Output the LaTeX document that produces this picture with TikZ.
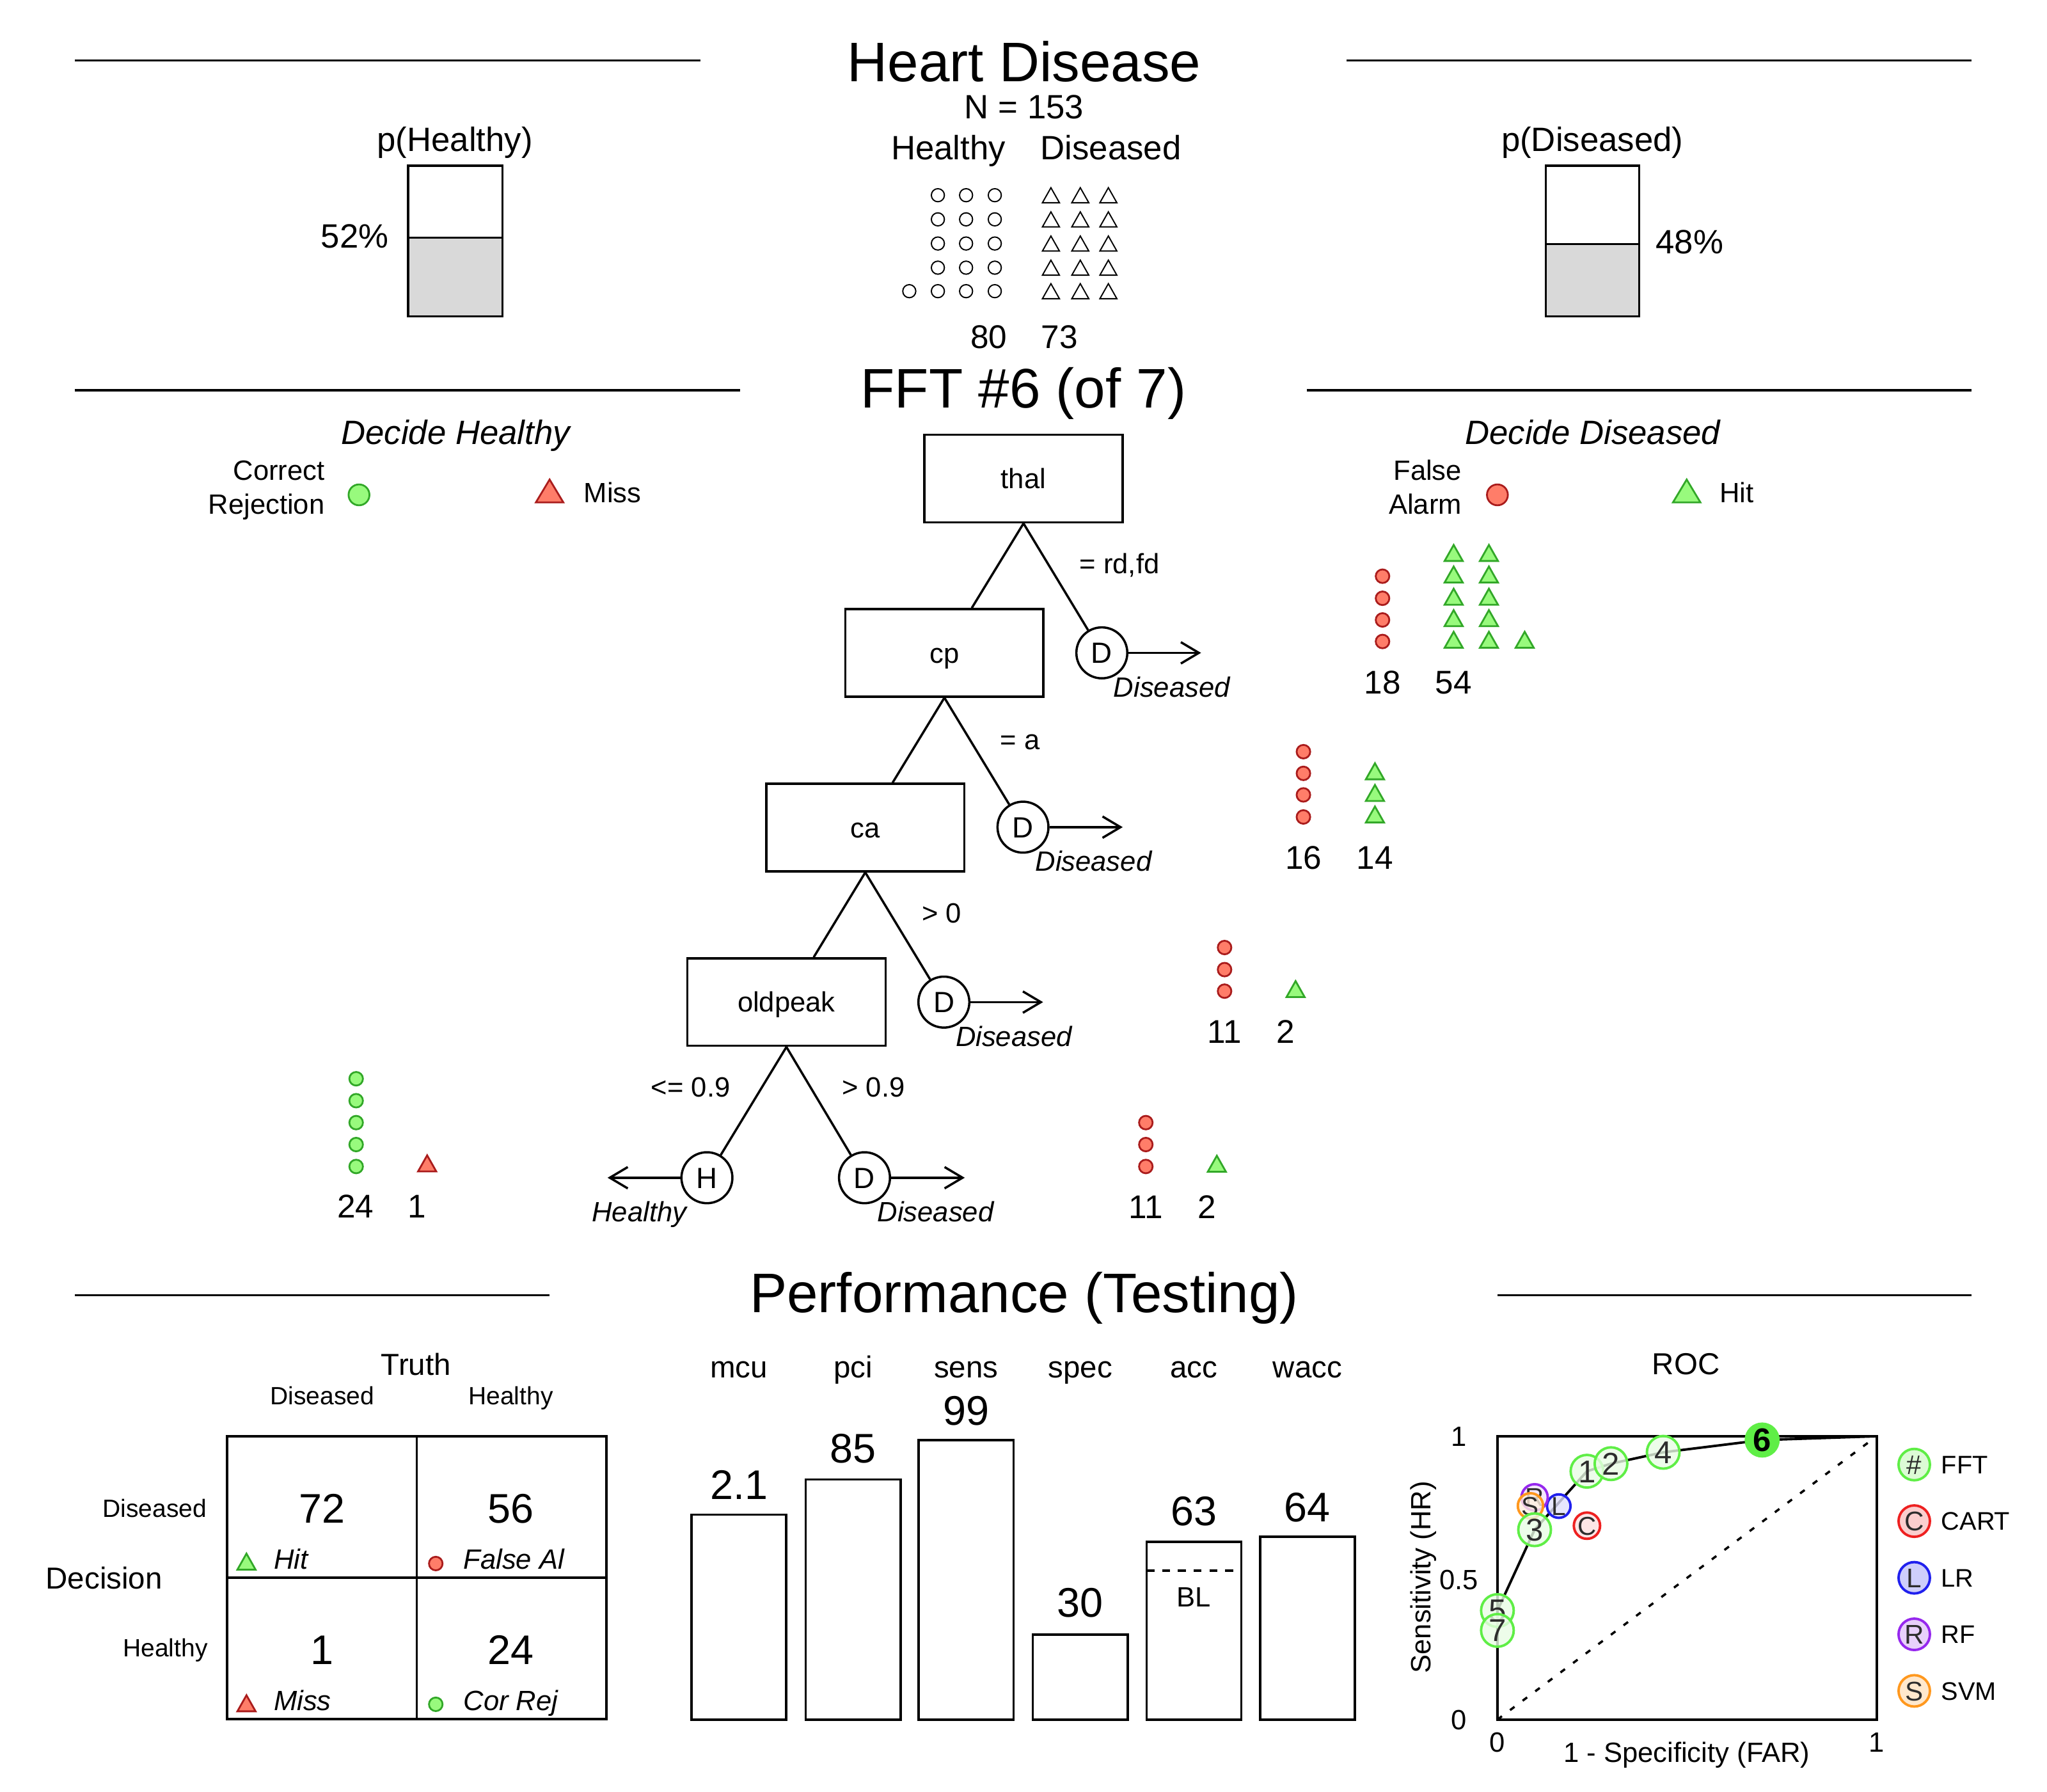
\documentclass[tikz,border=0pt]{standalone}
\usepackage{fontspec}
\setmainfont{Liberation Sans}
\usetikzlibrary{arrows.meta}
\newcommand{\myfs}[1]{\fontsize{#1pt}{#1pt}\selectfont}
\definecolor{gF}{RGB}{152,250,125}
\definecolor{gE}{RGB}{50,168,40}
\definecolor{rF}{RGB}{255,125,105}
\definecolor{rE}{RGB}{170,28,28}
\definecolor{rocG}{RGB}{95,238,70}
\definecolor{rocR}{RGB}{238,32,32}
\definecolor{rocB}{RGB}{32,32,238}
\definecolor{rocP}{RGB}{150,40,238}
\definecolor{rocO}{RGB}{255,152,30}
\definecolor{barGray}{RGB}{217,217,217}
\definecolor{numGray}{RGB}{45,45,45}
\tikzset{
  tx/.style={inner sep=0pt, text depth=0pt},
  tBig/.style={tx, font=\myfs{24.8}, text height=17.76pt},
  tMed/.style={tx, font=\myfs{15}, text height=10.74pt},
  tMedI/.style={tx, font=\myfs{15}\itshape, text height=10.74pt},
  tCnt/.style={tx, font=\myfs{14.6}, text height=10.45pt},
  tPerf/.style={tx, font=\myfs{13.5}, text height=9.67pt},
  tSm/.style={tx, font=\myfs{12.4}, text height=8.88pt},
  tSmI/.style={tx, font=\myfs{12.4}\itshape, text height=8.88pt},
  tCell/.style={tx, font=\myfs{11.1}, text height=7.95pt},
  tVal/.style={tx, font=\myfs{18.4}, text height=13.17pt},
  tLeg/.style={tx, font=\myfs{11.3}, text height=8.09pt},
  rule/.style={line width=1pt},
  fftbox/.style={draw, line width=1pt, minimum width=3.096cm, minimum height=1.367cm, inner sep=0pt, font=\myfs{12.4}, text height=8.88pt, text depth=0pt},
  leaf/.style={draw, circle, line width=1pt, minimum size=0.796cm, inner sep=0pt, font=\myfs{13}, text height=9.31pt, text depth=0pt, fill=white},
  edge/.style={line width=1pt},
  arr/.style={line width=1pt, -{Straight Barb[length=8pt,width=9.5pt,line width=1pt]}},
  gIc/.style={draw=gE, fill=gF, line width=0.8pt},
  rIc/.style={draw=rE, fill=rF, line width=0.8pt},
  oIc/.style={draw=black, line width=0.55pt},
  rocpt/.style={draw=#1, fill=#1!14, fill opacity=0.8, text opacity=1, circle, line width=1.1pt, inner sep=0pt, minimum size=0.367cm, font=\myfs{11.5}, text=numGray, text height=8.2pt, text depth=0pt},
  fftpt/.style={rocpt=rocG, minimum size=0.51cm, font=\myfs{14}, text height=10pt},
  legpt/.style={draw=#1, fill=#1!22, circle, line width=1.1pt, inner sep=0pt, minimum size=0.49cm, font=\myfs{12}, text=numGray, text height=8.6pt, text depth=0pt},
}
\newcommand{\icirc}[4]{\draw[#1] (#2,#3) circle[radius=#4];}
\newcommand{\itri}[5]{\draw[#1] ({#2-#4/2},{#3+#5/2}) -- ({#2+#4/2},{#3+#5/2}) -- (#2,{#3-#5/2}) -- cycle;}
\begin{document}
\begin{tikzpicture}[x=0.0204082cm,y=-0.0204082cm]
\useasboundingbox (0,0) rectangle (1568,1372);
\fill[white] (0,0) rectangle (1568,1372);

% ---------------- header ----------------
\draw[rule] (57.5,46.3) -- (536.5,46.3);
\draw[rule] (1031.5,46.3) -- (1510,46.3);
\node[tBig] (title) at (784.5,47) {Heart Disease};
\node[tMed] (nlab) at (784.5,81.6) {N = 153};
\node[tMed] (hhead) at (726.5,113) {Healthy};
\node[tMed] (dhead) at (851,113) {Diseased};
\node[tMed] (phl) at (348.5,106.5) {p(Healthy)};
\node[tMed] (pdl) at (1219.7,106.5) {p(Diseased)};
% p bars
\fill[barGray] (312.5,182) rectangle (385,242.3);
\draw[line width=1pt] (312.5,127) rectangle (385,242.3);
\draw[line width=1pt] (312.5,182) -- (385,182);
\node[tMed, anchor=east] (php) at (298,180.5) {52\%};
\fill[barGray] (1184,187) rectangle (1255.5,242.3);
\draw[line width=1pt] (1184,127) rectangle (1255.5,242.3);
\draw[line width=1pt] (1184,187) -- (1255.5,187);
\node[tMed, anchor=west] (pdp) at (1268,185) {48\%};
% header icon arrays
\foreach \yy in {149.5,168,186.5,205,223}{
  \foreach \xx in {718.4,740,762}{ \icirc{oIc}{\xx}{\yy}{5} }
  \foreach \xx in {805,827.5,849}{ \itri{oIc}{\xx}{\yy}{13}{11.5} }
}
\icirc{oIc}{696.5}{223}{5}
\node[tCnt] (c80) at (757.5,258) {80};
\node[tCnt] (c73) at (811.5,258) {73};

% ---------------- FFT ----------------
\draw[rule] (57.5,299) -- (567,299);
\draw[rule] (1001,299) -- (1510,299);
\node[tBig] (ffttitle) at (784,297) {FFT \#6 (of 7)};
\node[tMedI] (dech) at (349,331) {Decide Healthy};
\node[tMedI] (decd) at (1220,331) {Decide Diseased};
\node[tSm, anchor=east] (crl1) at (249,360) {Correct};
\node[tSm, anchor=east] (crl2) at (249,386) {Rejection};
\icirc{gIc}{275}{379}{8}
\itri{rIc}{421}{376}{21}{17.5}
\node[tSm, anchor=west] (missl) at (447,377) {Miss};
\node[tSm, anchor=east] (fal1) at (1120,360) {False};
\node[tSm, anchor=east] (fal2) at (1120,386) {Alarm};
\icirc{rIc}{1147}{379}{8}
\itri{gIc}{1292}{376}{21}{17.5}
\node[tSm, anchor=west] (hitl) at (1317,377) {Hit};

% tree
\node[fftbox] (thal) at (784,366.5) {thal};
\node[fftbox] (cp) at (723.4,500) {cp};
\node[fftbox] (ca) at (662.8,633.8) {ca};
\node[fftbox] (oldpeak) at (602.4,767.5) {oldpeak};
\node[leaf] (d1) at (844,500) {D};
\node[leaf] (d2) at (783.6,633.5) {D};
\node[leaf] (d3) at (723,767.5) {D};
\node[leaf] (h4) at (541.5,902) {H};
\node[leaf] (d4) at (662.2,902) {D};
\draw[edge] (thal.south) -- (cp);
\draw[edge] (thal.south) -- (d1);
\draw[edge] (cp.south) -- (ca);
\draw[edge] (cp.south) -- (d2);
\draw[edge] (ca.south) -- (oldpeak);
\draw[edge] (ca.south) -- (d3);
\draw[edge] (oldpeak.south) -- (h4);
\draw[edge] (oldpeak.south) -- (d4);
\coordinate (a1) at (920,500);
\coordinate (a2) at (860,633.5);
\coordinate (a3) at (799,767.5);
\coordinate (a4) at (739,902);
\coordinate (a5) at (465.4,902);
\draw[arr] (d1) -- (a1);
\draw[arr] (d2) -- (a2);
\draw[arr] (d3) -- (a3);
\draw[arr] (d4) -- (a4);
\draw[arr] (h4) -- (a5);
\node[tSm] (e1) at (857.5,431.6) {= rd,fd};
\node[tSm] (e2) at (781.4,566.3) {= a};
\node[tSm] (e3) at (721.4,699.1) {> 0};
\node[tSm] (e4) at (529,832.5) {<= 0.9};
\node[tSm] (e5) at (669,832.5) {> 0.9};
\node[tSmI] (l1) at (897.6,526.3) {Diseased};
\node[tSmI] (l2) at (837.6,659.5) {Diseased};
\node[tSmI] (l3) at (776.6,793.5) {Diseased};
\node[tSmI] (l4) at (716.6,928) {Diseased};
\node[tSmI] (l5) at (489.7,928) {Healthy};

% tree icon arrays
\foreach \yy in {441.3,458.2,474.8,491.3}{ \icirc{rIc}{1059}{\yy}{5.2} }
\foreach \yy in {423.5,440,457,473.4,490}{ \itri{gIc}{1113.5}{\yy}{13.9}{12.3} \itri{gIc}{1140.5}{\yy}{13.9}{12.3} }
\itri{gIc}{1167.9}{490}{13.9}{12.3}
\node[tCnt] (n18) at (1059,522.2) {18};
\node[tCnt] (n54) at (1113.5,522.2) {54};
\foreach \yy in {575.7,592.3,608.8,625.7}{ \icirc{rIc}{998.4}{\yy}{5.2} }
\foreach \yy in {590.7,607.3,623.8}{ \itri{gIc}{1053.2}{\yy}{13.9}{12.3} }
\node[tCnt] (n16) at (998.4,656.6) {16};
\node[tCnt] (n14) at (1053.2,656.6) {14};
\foreach \yy in {725.7,742.6,759.1}{ \icirc{rIc}{938}{\yy}{5.2} }
\itri{gIc}{992.4}{757.5}{13.9}{12.3}
\node[tCnt] (n11a) at (938,789.7) {11};
\node[tCnt] (n2a) at (985,789.7) {2};
\foreach \yy in {859.8,876.6,893.4}{ \icirc{rIc}{877.7}{\yy}{5.2} }
\itri{gIc}{932.1}{891.3}{13.9}{12.3}
\node[tCnt] (n11b) at (877.7,924.3) {11};
\node[tCnt] (n2b) at (924.6,924.3) {2};
\foreach \yy in {826.2,843,859.8,876.6,893.4}{ \icirc{gIc}{272.8}{\yy}{5.2} }
\itri{rIc}{327.2}{891}{13.9}{12.3}
\node[tCnt] (n24) at (272.4,923.6) {24};
\node[tCnt] (n1) at (319.6,923.6) {1};

% ---------------- Performance ----------------
\draw[rule] (57.5,992) -- (421,992);
\draw[rule] (1147,992) -- (1510,992);
\node[tBig] (perftitle) at (784.5,990) {Performance (Testing)};
% confusion matrix
\node[tPerf] (truth) at (318.7,1045) {Truth};
\node[tCell] (cold) at (246.9,1068.7) {Diseased};
\node[tCell] (colh) at (391.3,1068.7) {Healthy};
\node[tPerf] (decis) at (79.7,1208.7) {Decision};
\node[tCell, anchor=east] (rowd) at (158.7,1155) {Diseased};
\node[tCell, anchor=east] (rowh) at (159.4,1262) {Healthy};
\draw[line width=1pt] (174,1100) rectangle (464.5,1316.6);
\draw[line width=1pt] (319.3,1100) -- (319.3,1316.6);
\draw[line width=1pt] (174,1208.3) -- (464.5,1208.3);
\node[tVal] (v72) at (246.9,1155) {72};
\node[tVal] (v56) at (391.3,1155) {56};
\node[tVal] (v1) at (246.9,1263.3) {1};
\node[tVal] (v24) at (391.3,1263.3) {24};
\itri{gIc}{188.8}{1196}{13.9}{12.3}
\node[tSmI, anchor=west] (mhit) at (209.4,1194) {Hit};
\icirc{rIc}{333.8}{1197.5}{5.2}
\node[tSmI, anchor=west] (mfa) at (354.7,1194) {False Al};
\itri{rIc}{188.8}{1304.5}{13.9}{12.3}
\node[tSmI, anchor=west] (mmiss) at (209.4,1302.4) {Miss};
\icirc{gIc}{333.8}{1305.3}{5.2}
\node[tSmI, anchor=west] (mcr) at (354.7,1302.4) {Cor Rej};
% bars
\foreach \lab/\cx/\top/\val/\vy in {mcu/566/1160/2.1/1137, pci/653.5/1133/85/1109, sens/740/1103/99/1080, spec/827.5/1252/30/1227, acc/914.5/1181/63/1157, wacc/1001.5/1177/64/1154}{
  \node[tPerf] (bl\lab) at (\cx,1047) {\lab};
  \draw[line width=1pt] ({\cx-36.3},\top) rectangle ({\cx+36.3},1317);
  \node[tVal] (bv\lab) at (\cx,\vy) {\val};
}
\draw[line width=1pt, dash pattern=on 3.5pt off 3.5pt] (878.2,1203) -- (950.8,1203);
\node[tSm] (blt) at (914.5,1223) {BL};

% ROC
\node[tPerf] (roct) at (1291.4,1044.3) {ROC};
\draw[line width=1.1pt] (1147,1100) rectangle (1437.5,1317);
\coordinate (r00) at (1147,1317);
\coordinate (r11) at (1437.5,1100);
\draw[line width=1pt, dash pattern=on 2.5pt off 4.5pt] (r00) -- (r11);
\node[tSm] (ty1) at (1117.5,1100) {1};
\node[tSm] (ty05) at (1117.5,1209.6) {0.5};
\node[tSm] (ty0) at (1117.5,1317) {0};
\node[tSm] (tx0) at (1147,1334) {0};
\node[tSm] (tx1) at (1437.5,1334) {1};
\node[tSm] (xlab) at (1292,1342) {1 - Specificity (FAR)};
\node[tSm, rotate=90] (ylab) at (1088,1208) {Sensitivity (HR)};
% ROC points
\coordinate (q7) at (1147,1248.7);
\coordinate (q5) at (1147,1233.5);
\coordinate (q3) at (1175.5,1171.6);
\coordinate (q1) at (1215.6,1126.8);
\coordinate (q2) at (1234,1121);
\coordinate (q4) at (1274,1112.3);
\coordinate (q6) at (1349.8,1102.9);
\draw[line width=1.1pt] (r00) -- (q7) -- (q5) -- (q3) -- (q1) -- (q2) -- (q4) -- (q6) -- (r11);
\node[rocpt=rocR] (pC) at (1215.6,1168.5) {C};
\node[rocpt=rocB] (pL) at (1194,1153.5) {L};
\node[rocpt=rocP] (pR) at (1175.5,1146.8) {R};
\node[rocpt=rocO] (pS) at (1172.3,1153.3) {S};
\node[fftpt] (p1) at (q1) {1};
\node[fftpt] (p2) at (q2) {2};
\node[fftpt] (p3) at (q3) {3};
\node[fftpt] (p4) at (q4) {4};
\node[fftpt] (p5) at (q5) {5};
\node[fftpt] (p7) at (q7) {7};
\node[fftpt, fill=rocG, fill opacity=1, text=black, font=\myfs{14.5}\bfseries] (p6) at (q6) {6};
% ROC legend
\node[legpt=rocG] (lgF) at (1466.3,1121.7) {\#};
\node[legpt=rocR] (lgC) at (1466.3,1165) {C};
\node[legpt=rocB] (lgL) at (1466.3,1208.4) {L};
\node[legpt=rocP] (lgR) at (1466.3,1251.7) {R};
\node[legpt=rocO] (lgS) at (1466.3,1295) {S};
\node[tLeg, anchor=west] (lgFt) at (1486.7,1121.7) {FFT};
\node[tLeg, anchor=west] (lgCt) at (1486.7,1165) {CART};
\node[tLeg, anchor=west] (lgLt) at (1486.7,1208.4) {LR};
\node[tLeg, anchor=west] (lgRt) at (1486.7,1251.7) {RF};
\node[tLeg, anchor=west] (lgSt) at (1486.7,1295) {SVM};
\end{tikzpicture}
\end{document}
